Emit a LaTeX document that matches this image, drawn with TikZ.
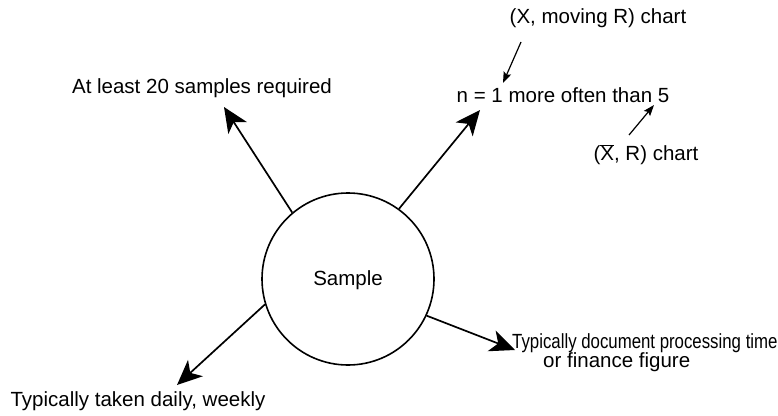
\documentclass[tikz,border=0pt]{standalone}
\usepackage{fontspec}
\setmainfont{Liberation Sans}
\usetikzlibrary{arrows.meta}
\begin{document}
\begin{tikzpicture}[x=1pt,y=-1pt,
  lbl/.style={inner sep=0pt,font=\fontsize{20.5}{19.5}\selectfont},
  bigarrow/.style={line width=1.7pt,-{Stealth[length=25pt,width=22pt,inset=7pt]}},
  smallarrow/.style={line width=1.2pt,-{Stealth[length=11pt,width=8pt,inset=2pt]}}]
\useasboundingbox (0,0) rectangle (778,415);
\node[circle,draw,line width=1.6pt,minimum size=172pt,inner sep=0pt] (c) at (348,279) {};
\node[lbl] (s) at (348,280) {Sample};
\node[lbl] (a) at (202,88) {At least 20 samples required};
\node[lbl] (n) at (563,95) {n = 1 more often than 5};
\node[lbl] (m) at (598,18) {(X, moving R) chart};
\node[lbl] (x) at (646,155) {($\overline{\hbox{X}}$, R) chart};
\node[lbl,align=left,anchor=north west] (d) at (512,333) {\scalebox{0.82}[1]{Typically document processing time}\\\hspace*{31pt}or finance figure};
\node[lbl] (w) at (138,401) {Typically taken daily, weekly};
\coordinate (ta) at (224,107);
\coordinate (tn) at (480,110);
\coordinate (td) at (515,350);
\coordinate (tw) at (177,385);
\coordinate (m0) at (521,42);
\coordinate (m1) at (503,83);
\coordinate (x0) at (629,135);
\coordinate (x1) at (654,105);
\draw[bigarrow] (c.130.8) -- (ta);
\draw[bigarrow] (c.54.8) -- (tn);
\draw[bigarrow] (c.-25) -- (td);
\draw[bigarrow] (c.197) -- (tw);
\draw[smallarrow] (m0) -- (m1);
\draw[smallarrow] (x0) -- (x1);
\end{tikzpicture}
\end{document}
